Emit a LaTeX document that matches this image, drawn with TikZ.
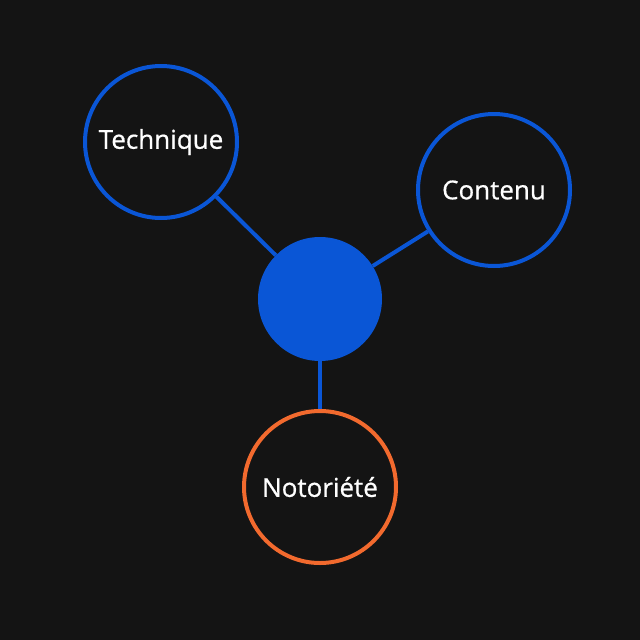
\documentclass[tikz,border=0pt]{standalone}
\usepackage{fontspec}
\setmainfont{Open Sans}
\newfontfamily\labelfont[FakeBold=0.7]{Open Sans}
\definecolor{bg}{HTML}{141414}
\definecolor{blu}{HTML}{0A56D6}
\definecolor{org}{HTML}{F26A2E}
\begin{document}
\begin{tikzpicture}[x=1pt,y=-1pt,
  ring/.style={circle,draw=blu,line width=4pt,fill=bg,minimum size=152pt,inner sep=0pt,text=white,font=\labelfont\fontsize{26}{30}\selectfont},
  hub/.style={circle,fill=blu,minimum size=124pt,inner sep=0pt},
  link/.style={draw=blu,line width=4pt}]
\fill[bg] (0,0) rectangle (640,640);
\useasboundingbox (0,0) rectangle (640,640);
\node[hub] (c) at (320,299) {};
\node[ring] (t) at (161,142) {Technique};
\node[ring] (k) at (494,190) {Contenu};
\node[ring,draw=org] (n) at (320,487) {Notoriété};
\draw[link] (c) -- (t);
\draw[link] (c) -- (k);
\draw[link] (c) -- (n);
\end{tikzpicture}
\end{document}
